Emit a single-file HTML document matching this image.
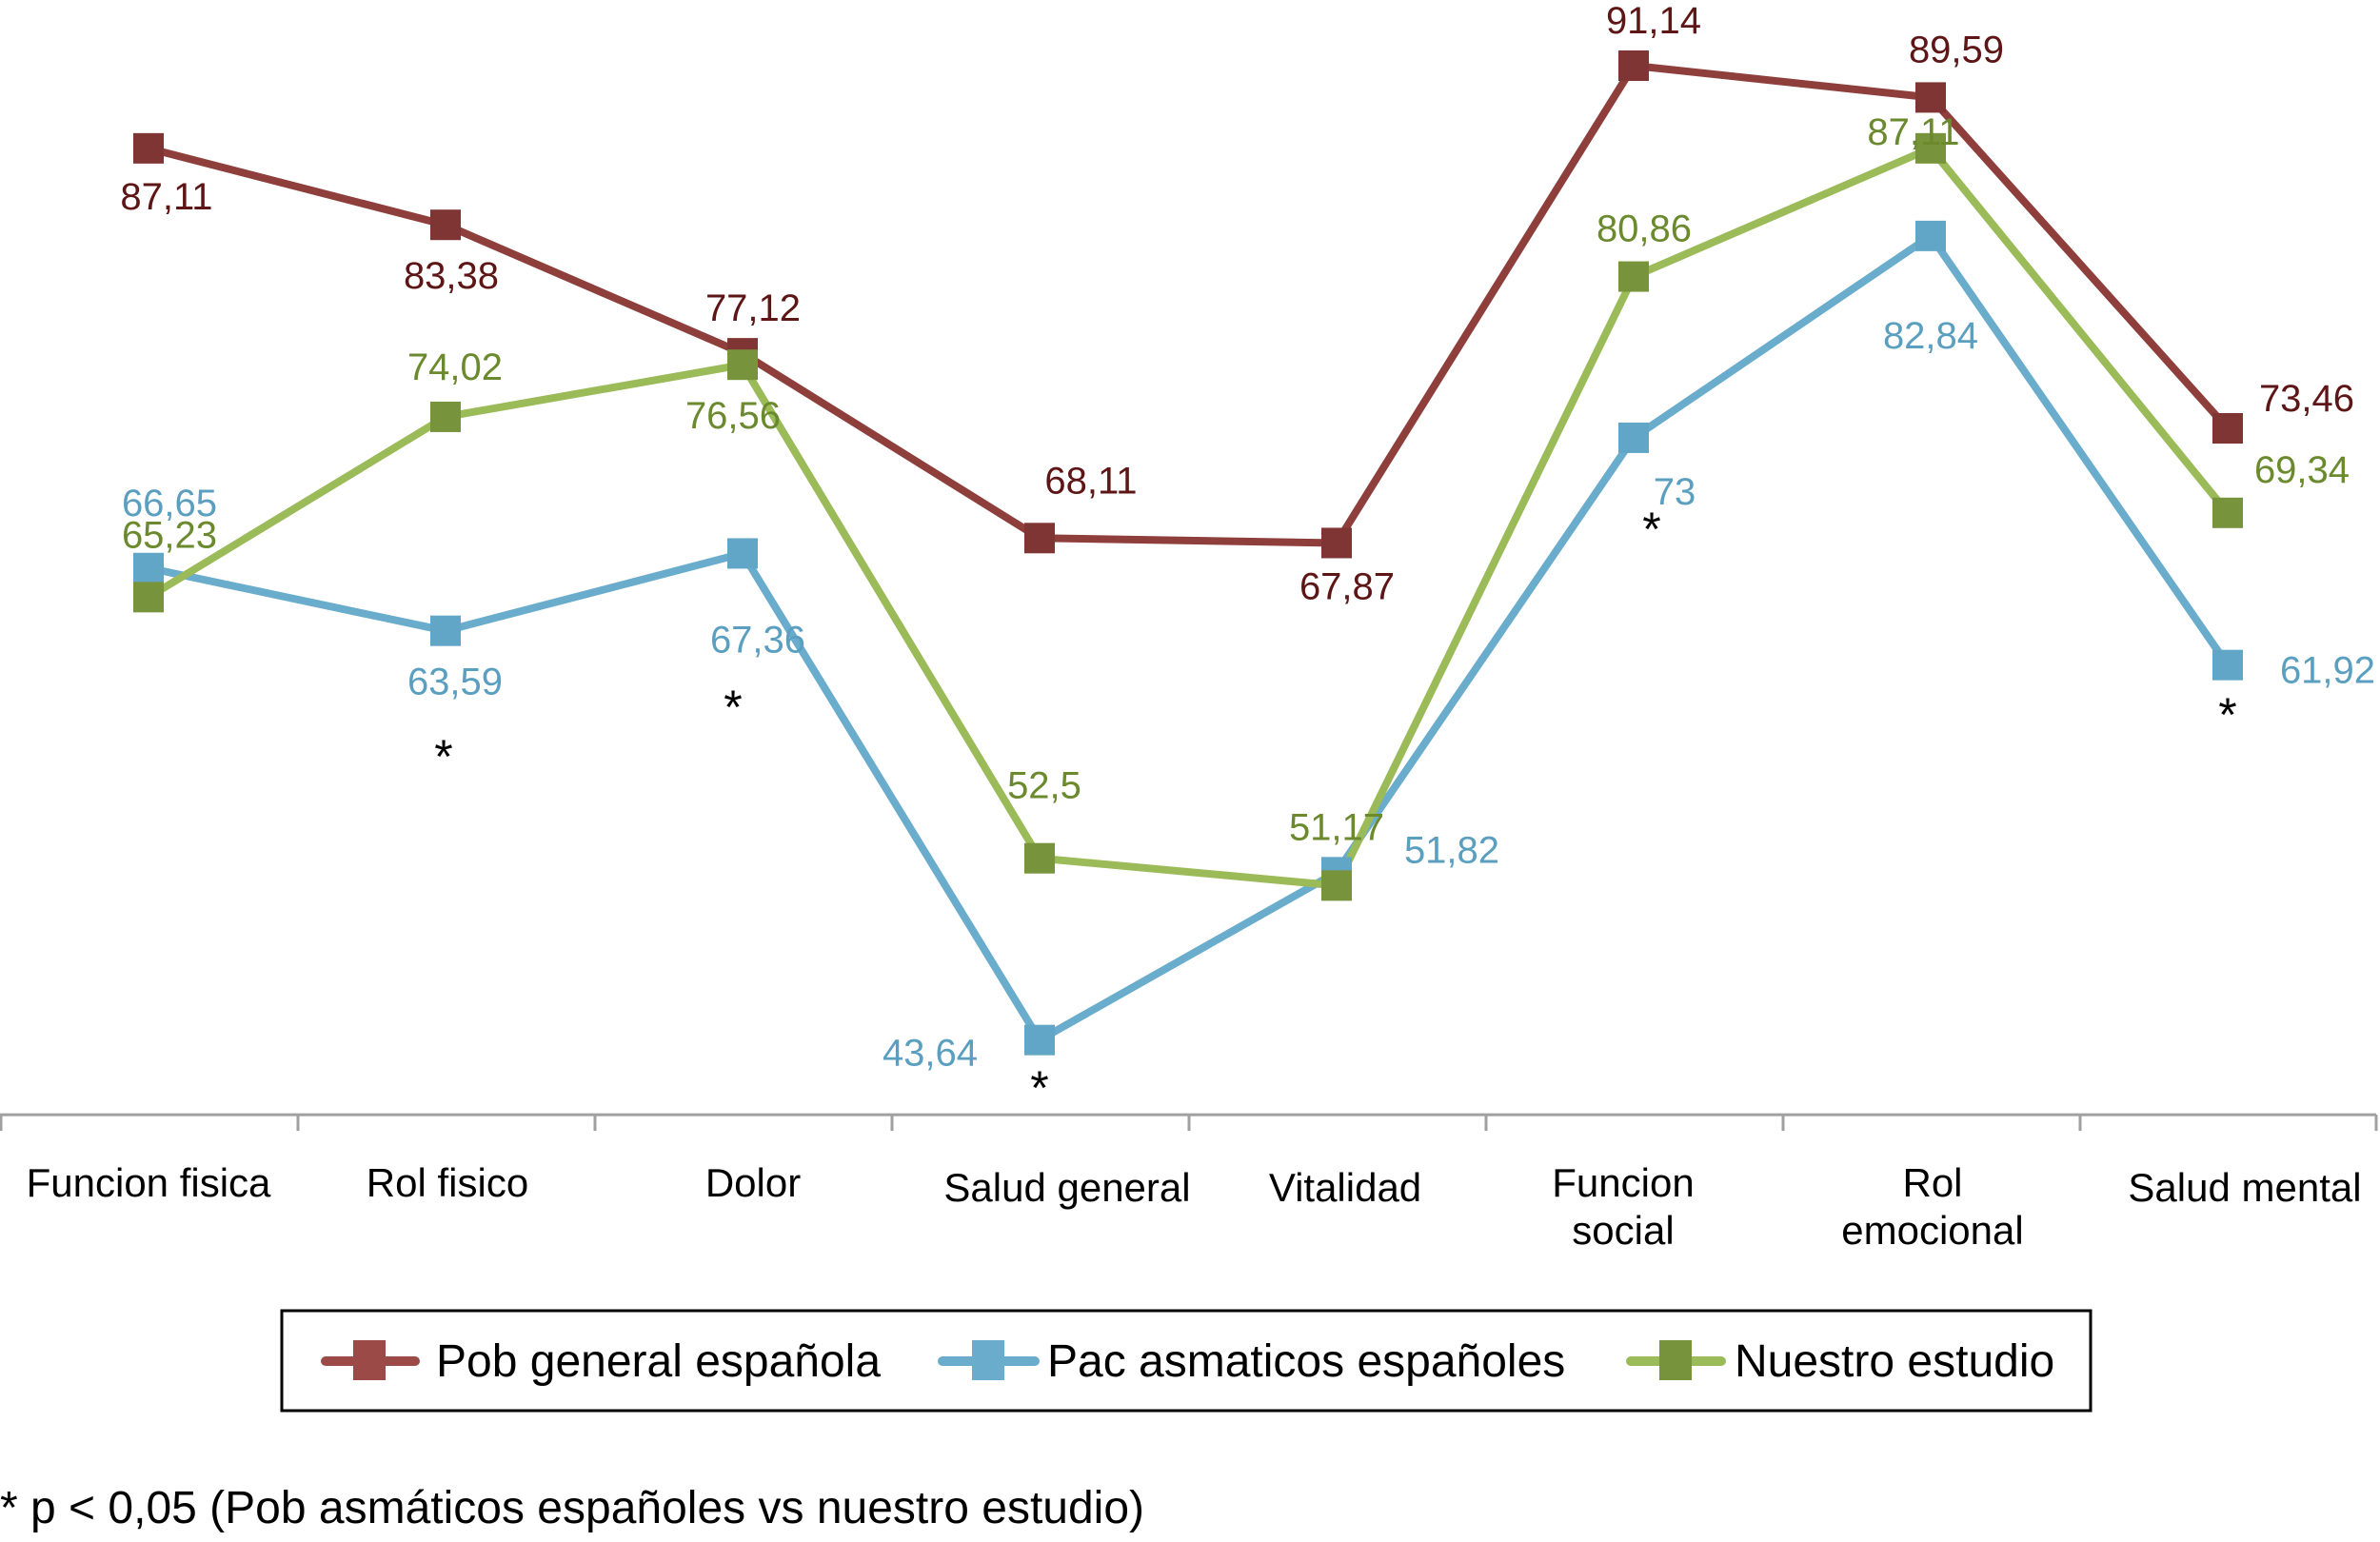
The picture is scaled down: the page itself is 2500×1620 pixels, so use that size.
<!DOCTYPE html>
<html><head><meta charset="utf-8"><style>
html,body{margin:0;padding:0;background:#fff;}
svg{display:block;font-family:"Liberation Sans",Arial,sans-serif;}
</style></head><body>
<svg id="chart" width="2500" height="1620" viewBox="0 0 2500 1620" xmlns="http://www.w3.org/2000/svg">
<g id="axis"></g>
<g id="series"></g>
<g id="labels"></g>
<g id="stars"></g>
<g>
<rect x="296" y="1377" width="1900" height="105" fill="#fff" stroke="#000" stroke-width="3"/>
<g>
<line x1="342" y1="1430" x2="436" y2="1430" stroke="#9b4a47" stroke-width="10" stroke-linecap="round"/>
<rect x="371" y="1408" width="34" height="42" fill="#9b4a47"/>
<text x="458" y="1446" font-size="48" fill="#000">Pob general española</text></g>
<g>
<line x1="990" y1="1430" x2="1087" y2="1430" stroke="#6aaccc" stroke-width="10" stroke-linecap="round"/>
<rect x="1021" y="1408" width="34" height="42" fill="#6aaccc"/>
<text x="1100" y="1446" font-size="48" fill="#000">Pac asmaticos españoles</text></g>
<g>
<line x1="1713" y1="1430" x2="1808" y2="1430" stroke="#9bbb59" stroke-width="10" stroke-linecap="round"/>
<rect x="1743" y="1408" width="34" height="42" fill="#77933c"/>
<text x="1822" y="1446" font-size="48" fill="#000">Nuestro estudio</text></g>
</g>
<text x="0" y="1600" font-size="48" fill="#000">* p &lt; 0,05 (Pob asmáticos españoles vs nuestro estudio)</text>
</svg>
<script>
const categories = [["Funcion fisica"],["Rol fisico"],["Dolor"],["Salud general"],["Vitalidad"],["Funcion","social"],["Rol","emocional"],["Salud mental"]];
const pobGeneral = [87.11, 83.38, 77.12, 68.11, 67.87, 91.14, 89.59, 73.46];
const pacAsmaticos = [66.65, 63.59, 67.36, 43.64, 51.82, 73, 82.84, 61.92];
const nuestroEstudio = [65.23, 74.02, 76.56, 52.5, 51.17, 80.86, 87.11, 69.34];
const pobLabels = ["87,11","83,38","77,12","68,11","67,87","91,14","89,59","73,46"];
const pacLabels = ["66,65","63,59","67,36","43,64","51,82","73","82,84","61,92"];
const nuestroLabels = ["65,23","74,02","76,56","52,5","51,17","80,86","87,11","69,34"];
const significant = [false, true, true, true, false, true, false, true];

const NS = "http://www.w3.org/2000/svg";
const step = 312, x0 = 156;
function xScale(i){ return x0 + step*i; }
function yScale(v){ return 69 + (91.14 - v)*21.55; }
const axisY = yScale(40);
function mk(tag, attrs, parent){ const e=document.createElementNS(NS,tag); for(const k in attrs) e.setAttribute(k,attrs[k]); parent.appendChild(e); return e; }

const axis = document.getElementById('axis');
const ax = mk('line',{x1:0,y1:axisY,x2:2496,y2:axisY,stroke:'#a0a0a0','stroke-width':3},axis);


for(let i=0;i<=categories.length;i++){
  const tx = Math.min(step*i+1, 2496);
  const t = mk('line',{x1:tx,y1:axisY,x2:tx,y2:axisY+17,stroke:'#a0a0a0','stroke-width':3},axis);
  
  
}
const labelX = [156, 470, 791, 1121, 1413, 1705, 2030, 2358];
categories.forEach((c,i)=>{
  const t = mk('text',{x:labelX[i],'text-anchor':'middle','font-size':42,fill:'#000'},axis);
  
  
  const ys = c.length===1 ? (i===3||i===4||i===7?[1262]:[1257]) : [1257,1307];
  c.forEach((s,j)=>{ const ts=mk('tspan',{x:labelX[i],y:ys[j]},t); ts.textContent=s; });
});

const series = [
  {name:'pob-general', vals:pobGeneral, labels:pobLabels, line:'#8e3f3c', marker:'#7f3533', text:'#5e1515',
   off:[[19,50],[6,53],[11,-48],[54,-61],[11,45],[21,-48],[27,-51],[83,-32]]},
  {name:'pac-asmaticos', vals:pacAsmaticos, labels:pacLabels, line:'#6aaccc', marker:'#62a6c7', text:'#5b9fc0',
   off:[[22,-69],[10,53],[16,90],[-115,13],[121,-24],[43,56],[0,104],[105,5]]},
  {name:'nuestro-estudio', vals:nuestroEstudio, labels:nuestroLabels, line:'#9bbb59', marker:'#77933c', text:'#6b8a2e',
   off:[[22,-66],[10,-53],[-10,53],[5,-77],[0,-62],[11,-51],[-18,-18],[78,-46]]}
];
const sg = document.getElementById('series');
const lg = document.getElementById('labels');
series.forEach(s=>{
  const pts = s.vals.map((v,i)=>xScale(i)+','+yScale(v)).join(' ');
  const pl = mk('polyline',{points:pts,fill:'none',stroke:s.line,'stroke-width':8,'stroke-linejoin':'round'},sg);
  
  
});
series.forEach(s=>{
  s.vals.forEach((v,i)=>{
    const r = mk('rect',{x:xScale(i)-16,y:yScale(v)-16,width:32,height:32,fill:s.marker},sg);
    
    
  });
});
series.forEach(s=>{
  s.vals.forEach((v,i)=>{
    const t = mk('text',{x:xScale(i)+s.off[i][0],y:yScale(v)+s.off[i][1]+14,'text-anchor':'middle','font-size':40,fill:s.text},lg);
    t.textContent = s.labels[i];
    
    
  });
});
const starY = [0, 812, 760, 1160, 0, 573, 0, 768];
const starDx = [0, -2, -10, 0, 0, 19, 0, 0];
const stg = document.getElementById('stars');
significant.forEach((f,i)=>{
  if(!f) return;
  const t = mk('text',{x:xScale(i)+starDx[i],y:starY[i],'text-anchor':'middle','font-size':50,fill:'#000'},stg);
  t.textContent='*';
  
  
});
</script>
</body></html>
